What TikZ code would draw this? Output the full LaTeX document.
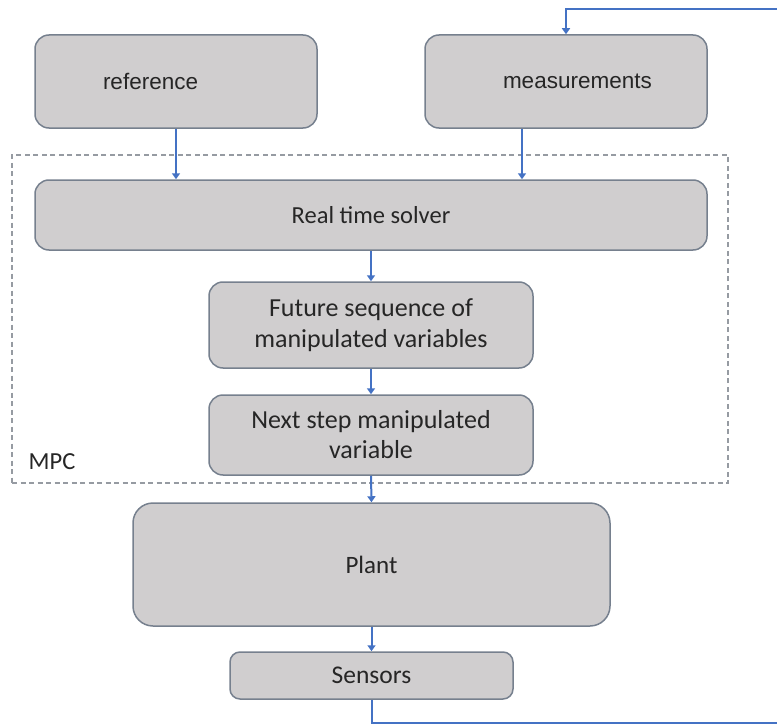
\documentclass[tikz,border=0pt]{standalone}
\usepackage{fontspec}
\setmainfont{Carlito}
\newfontfamily\arialfont{Liberation Sans}
\usetikzlibrary{arrows.meta}
\definecolor{boxfill}{RGB}{208,206,207}
\definecolor{boxline}{RGB}{118,128,142}
\definecolor{flow}{RGB}{68,114,196}
\definecolor{framegray}{RGB}{150,155,162}
\begin{document}
\begin{tikzpicture}[x=1pt,y=-1pt,
  box/.style={draw=boxline, fill=boxfill, line width=1.5pt, rounded corners=14pt,
              inner sep=0pt, align=center, text=black!85},
  inputbox/.style={box, minimum width=282pt, minimum height=93pt, align=left,
              font=\arialfont\fontsize{22.5}{27}\selectfont},
  calbox/.style={box, font=\fontsize{25}{31}\selectfont},
  arr/.style={draw=flow, line width=2pt, -{Triangle[width=8pt,length=6pt]}},
  mpcframe/.style={draw=framegray, line width=1.3pt, dash pattern=on 5pt off 3.5pt, inner sep=0pt}]
\useasboundingbox (0,0) rectangle (777,725);

% controller boundary
\node[mpcframe, minimum width=716pt, minimum height=328pt] (mpc) at (370,319) {};
\node[font=\fontsize{24.5}{29}\selectfont, text=black!85] (mpclabel) at (52,462) {MPC};

% inputs
\node[inputbox, text width=146pt, inner xsep=68pt] (ref) at (176,81.5) {reference};
\node[inputbox, text width=126pt, inner xsep=78pt] (meas) at (566,81.5) {measurements};

% controller blocks
\node[calbox, minimum width=672pt, minimum height=70pt, font=\fontsize{24.5}{30}\selectfont] (solver) at (371,215) {Real time solver};
\node[calbox, minimum width=324pt, minimum height=86pt, font=\fontsize{26}{31}\selectfont] (future) at (371,325) {Future sequence of\\manipulated variables};
\node[calbox, minimum width=324pt, minimum height=80pt, font=\fontsize{26}{30}\selectfont] (next) at (371,435) {Next step manipulated\\variable};

% process
\node[calbox, minimum width=477pt, minimum height=123pt, rounded corners=20pt] (plant) at (371.5,564.5) {Plant};
\node[calbox, minimum width=283pt, minimum height=47pt, rounded corners=10pt, font=\fontsize{25.5}{30}\selectfont] (sensors) at (371.5,675.5) {Sensors};

% signal flow
\coordinate (mx) at (522,0);
\coordinate (fbR) at (795,723);
\coordinate (fbT) at (795,9);
\draw[arr] (ref.south) -- (ref.south |- solver.north);
\draw[arr] (meas.south -| mx) -- (solver.north -| mx);
\draw[arr] (solver.south) -- (future.north);
\draw[arr] (future.south) -- (next.north);
\draw[arr] (next.south) -- (plant.north);
\draw[arr] (plant.south) -- (sensors.north);
\draw[arr] (sensors.south) |- (fbR) -- (fbT) -| (meas.north);
\end{tikzpicture}
\end{document}
